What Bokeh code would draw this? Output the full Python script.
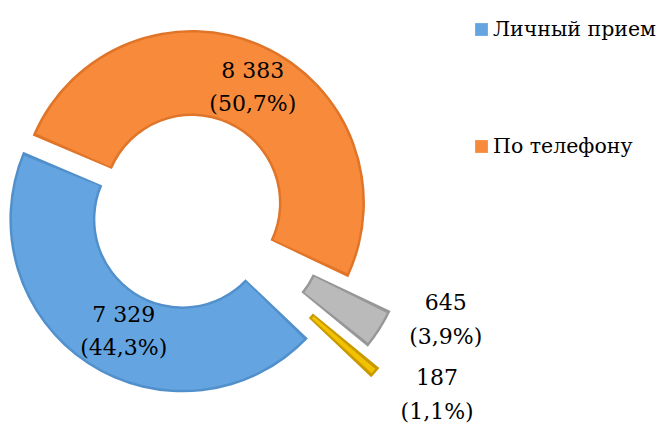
import math
from bokeh.plotting import figure
from bokeh.models import ColumnDataSource, Legend, LegendItem
from bokeh.core.properties import value
from bokeh.embed import file_html
from bokeh.resources import INLINE

# ---- data ----
categories = ["Личный прием", "По телефону", "Категория 3", "Категория 4"]
values = [7329, 8383, 645, 187]
legend_shown = [0, 1]  # only the first two entries are visible in the legend

# ---- style / layout ----
colors = ["#64A5E1", "#F78B3B", "#BABABA", "#F2C100"]
rims = ["#5290CC", "#E07428", "#979797", "#C89A00"]
explode = [13, 6, 53, 75]          # px, radial explosion of each slice
label_r = [126, 131, 227, 235]     # px, label distance from slice centre
label_shift = [5.5, -3.5, 11.1, 6.0]  # deg, label angular nudge from mid-angle
W, H = 664, 424
cx, cy = 189, H - 208              # ring centre (px)
R_OUT, R_IN = 173, 87
START = -43.5                      # deg, where the first slice begins (clockwise)
FONT = "DejaVu Serif"

total = sum(values)
fracs = [v / total for v in values]

xs, ys, st, en, st_i, en_i = [], [], [], [], [], []
lx, ly, ltext = [], [], []
a = START
for i, f in enumerate(fracs):
    end = a
    start = a - f * 360.0
    mid = math.radians((start + end) / 2)
    a = start
    ox = cx + explode[i] * math.cos(mid)
    oy = cy + explode[i] * math.sin(mid)
    xs.append(ox); ys.append(oy)
    st.append(math.radians(start)); en.append(math.radians(end))
    d = 2.5 / ((R_OUT + R_IN) / 2)
    st_i.append(math.radians(start) + d); en_i.append(math.radians(end) - d)
    la = mid + math.radians(label_shift[i])
    lx.append(ox + label_r[i] * math.cos(la))
    ly.append(oy + label_r[i] * math.sin(la))
    pct = f"{fracs[i]*100:.1f}".replace(".", ",")
    num = f"{values[i]:,}".replace(",", " ")
    ltext.append(f"{num}\n({pct}%)")

src = ColumnDataSource(dict(x=xs, y=ys, s=st, e=en, si=st_i, ei=en_i,
                            color=colors, rim=rims, cat=categories))
lsrc = ColumnDataSource(dict(x=lx, y=ly, t=ltext))

p = figure(width=W, height=H, x_range=(0, W), y_range=(0, H),
           output_backend="svg", toolbar_location=None, min_border=0,
           background_fill_color="white", border_fill_color="white")
p.axis.visible = False
p.grid.visible = False
p.outline_line_color = None

p.annular_wedge(x="x", y="y", inner_radius=R_IN, outer_radius=R_OUT,
                inner_radius_units="screen", outer_radius_units="screen",
                start_angle="s", end_angle="e", fill_color="rim",
                line_color=None, source=src)
top = p.annular_wedge(x="x", y="y", inner_radius=R_IN + 2.5, outer_radius=R_OUT - 2.5,
                      inner_radius_units="screen", outer_radius_units="screen",
                      start_angle="si", end_angle="ei", fill_color="color",
                      line_color=None, source=src)

p.text(x="x", y="y", text="t", source=lsrc, text_align="center",
       text_baseline="middle", text_font=value(FONT), text_font_size="22px",
       text_line_height=1.35, text_color="black")

items = [LegendItem(label=categories[i], renderers=[top], index=i) for i in legend_shown]
legend = Legend(items=items, location=(473, 266), orientation="vertical",
                glyph_width=16, glyph_height=16, label_standoff=4, spacing=93,
                padding=0, margin=0, border_line_alpha=0, background_fill_alpha=0,
                label_text_font=FONT, label_text_font_size="20.5px",
                label_text_color="black")
p.add_layout(legend)

open("out.html", "w").write(file_html(p, INLINE))
